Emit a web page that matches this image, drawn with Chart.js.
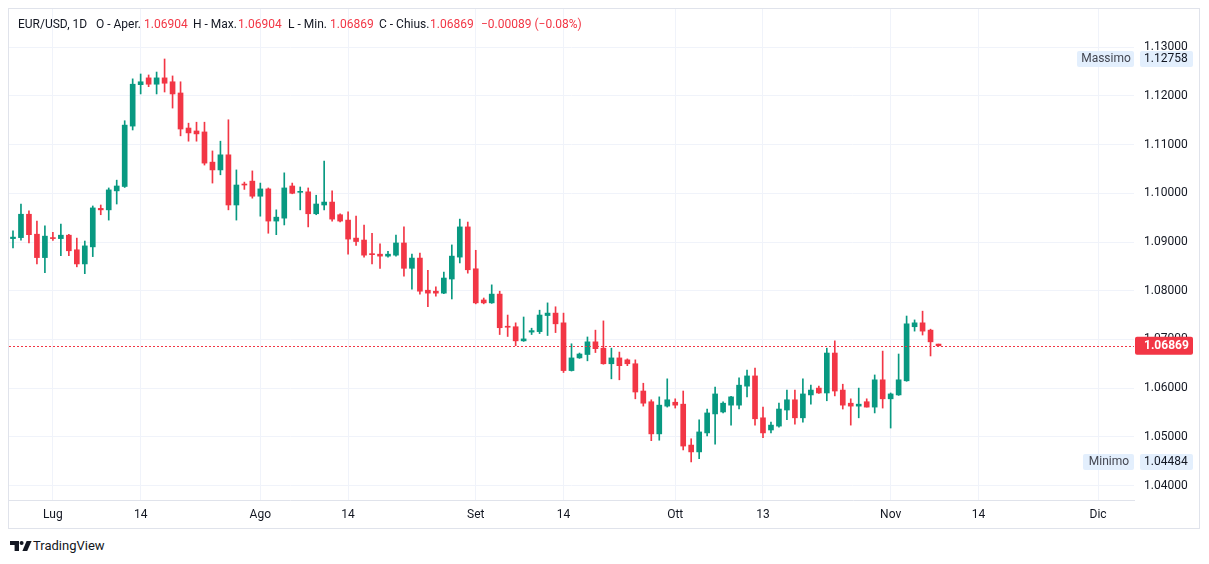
<!DOCTYPE html>
<html><head><meta charset="utf-8">
<script src="https://cdn.jsdelivr.net/npm/chart.js@4.4.1/dist/chart.umd.min.js"></script>
<style>
html,body{margin:0;padding:0;background:#fff;width:1209px;height:564px;overflow:hidden;font-family:Roboto,"Noto Sans",sans-serif;}
#box{position:absolute;left:8px;top:8px;width:1190px;height:519px;border:1px solid #e0e3eb;}
#c{position:absolute;left:0;top:0;}
.h{position:absolute;top:17px;font-size:12px;color:#131722;white-space:pre;line-height:14px;}
.r{color:#F23645;}
#logo{position:absolute;left:10px;top:541px;}
#tv{position:absolute;left:33px;top:538px;font-size:13px;color:#131722;line-height:16px;}
</style></head>
<body>
<div id="box"><canvas id="c" width="1190" height="519"></canvas></div>
<div class="h" style="left:18px">EUR/USD, 1D</div>
<div class="h" style="left:96px">O - Aper.</div><div class="h r" style="left:144px">1.06904</div>
<div class="h" style="left:193px">H - Max.</div><div class="h r" style="left:238px">1.06904</div>
<div class="h" style="left:288px">L - Min.</div><div class="h r" style="left:330px">1.06869</div>
<div class="h" style="left:379px">C - Chius.</div><div class="h r" style="left:430px">1.06869</div>
<div class="h r" style="left:481px">−0.00089 (−0.08%)</div>
<svg id="logo" width="22" height="10" viewBox="0 0 22 10">
<path d="M0 0H9V10H4.6V4H0Z" fill="#131722"/>
<circle cx="11.6" cy="2" r="2" fill="#131722"/>
<path d="M12.4 10L16.6 0H21.6L17.2 10Z" fill="#131722"/>
</svg>
<div id="tv">TradingView</div>
<script>
// Categories: daily bars (Sunday session included, Saturdays skipped)
const barDates = [];
for (let d = new Date(Date.UTC(2023, 5, 26)); barDates.length < 141; d.setUTCDate(d.getUTCDate() + 1)) {
  if (d.getUTCDay() !== 6) barDates.push(d.toISOString().slice(0, 10));
}
const tickDates = ["2023-07-02","2023-07-14","2023-08-01","2023-08-14","2023-09-01","2023-09-14","2023-10-01","2023-10-13","2023-11-01","2023-11-14","2023-12-01"];
const tickLabels = ["Lug","14","Ago","14","Set","14","Ott","13","Nov","14","Dic"];
const priceTicks = [1.04,1.05,1.06,1.07,1.08,1.09,1.10,1.11,1.12,1.13];

const open = [1.0907,1.0909,1.0957,1.0916,1.0868,1.0909,1.0907,1.0914,1.0884,1.0855,
1.0890,1.0969,1.0966,1.1005,1.1014,1.1138,1.1223,1.1237,1.1224,1.1237,
1.1229,1.1206,1.1134,1.1128,1.1126,1.1064,1.1048,1.1079,1.0976,1.1019,
1.1025,1.0994,1.1009,1.0943,1.0949,1.1015,1.1002,1.1003,1.0958,1.0976,
1.0982,1.0956,1.0945,1.0908,1.0904,1.0876,1.0875,1.0871,1.0873,1.0898,
1.0846,1.0867,1.0801,1.0799,1.0795,1.0824,1.0869,1.0931,1.0845,1.0781,
1.0775,1.0793,1.0726,1.0726,1.0697,1.0715,1.0716,1.0749,1.0754,1.0734,
1.0636,1.0662,1.0669,1.0695,1.0682,1.0650,1.0662,1.0658,1.0650,1.0594,
1.0572,1.0506,1.0563,1.0571,1.0567,1.0483,1.0469,1.0508,1.0547,1.0551,
1.0565,1.0565,1.0604,1.0625,1.0539,1.0514,1.0522,1.0555,1.0576,1.0539,
1.0586,1.0600,1.0590,1.0672,1.0596,1.0569,1.0563,1.0572,1.0561,1.0617,
1.0578,1.0586,1.0615,1.0726,1.0734,1.0719,1.06904];
const high = [1.0923,1.0978,1.0964,1.0943,1.0933,1.0920,1.0937,1.0916,1.0908,1.0902,
1.0974,1.0976,1.1011,1.1027,1.1149,1.1235,1.1245,1.1243,1.1249,1.12758,
1.1241,1.1229,1.1144,1.1146,1.1146,1.1087,1.1107,1.1151,1.1048,1.1023,
1.1046,1.1021,1.1011,1.0966,1.1042,1.1021,1.1013,1.1011,1.0996,1.1066,
1.1005,1.0958,1.0962,1.0953,1.0935,1.0918,1.0896,1.0881,1.0914,1.0931,
1.0875,1.0877,1.0842,1.0808,1.0838,1.0894,1.0947,1.0941,1.0883,1.0785,
1.0812,1.0799,1.0750,1.0734,1.0746,1.0723,1.0760,1.0775,1.0767,1.0754,
1.0691,1.0672,1.0705,1.0719,1.0738,1.0682,1.0674,1.0660,1.0658,1.0610,
1.0576,1.0582,1.0619,1.0578,1.0594,1.0496,1.0535,1.0557,1.0602,1.0572,
1.0583,1.0621,1.0637,1.0641,1.0561,1.0530,1.0569,1.0596,1.0596,1.0619,
1.0606,1.0604,1.0682,1.0697,1.0608,1.0578,1.0600,1.0578,1.0627,1.0676,
1.0590,1.0670,1.0748,1.0740,1.0758,1.0721,1.06904];
const low = [1.0888,1.0904,1.0898,1.0855,1.0837,1.0903,1.0872,1.0872,1.0849,1.0835,
1.0870,1.0956,1.0945,1.0978,1.1012,1.1130,1.1204,1.1219,1.1204,1.1208,
1.1175,1.1118,1.1107,1.1107,1.1058,1.1021,1.1038,1.0966,1.0945,1.1008,
1.0990,1.0953,1.0918,1.0915,1.0935,1.0999,1.0966,1.0931,1.0956,1.0966,
1.0943,1.0941,1.0875,1.0893,1.0869,1.0855,1.0846,1.0869,1.0871,1.0830,
1.0803,1.0793,1.0767,1.0789,1.0794,1.0783,1.0857,1.0836,1.0773,1.0773,
1.0774,1.0710,1.0706,1.0687,1.0696,1.0710,1.0712,1.0708,1.0714,1.0632,
1.0635,1.0661,1.0656,1.0673,1.0649,1.0619,1.0617,1.0646,1.0578,1.0563,
1.0492,1.0493,1.0561,1.0559,1.0473,1.04484,1.0455,1.0502,1.0485,1.0549,
1.0524,1.0557,1.0582,1.0524,1.0498,1.0508,1.0520,1.0535,1.0526,1.0530,
1.0567,1.0589,1.0574,1.0584,1.0557,1.0524,1.0539,1.0561,1.0549,1.0559,
1.0518,1.0585,1.0614,1.0717,1.0709,1.0666,1.06869];
const close = [1.0910,1.0957,1.0915,1.0868,1.0912,1.0907,1.0914,1.0882,1.0855,1.0892,
1.0970,1.0966,1.1007,1.1015,1.1140,1.1224,1.1229,1.1224,1.1237,1.1226,
1.1204,1.1132,1.1124,1.1122,1.1062,1.1048,1.1079,1.0976,1.1017,1.1017,
1.0994,1.1009,1.0943,1.0951,1.1011,1.1000,1.1003,1.0958,1.0978,1.0982,
1.0947,1.0943,1.0906,1.0901,1.0873,1.0874,1.0871,1.0875,1.0898,1.0846,
1.0867,1.0799,1.0795,1.0795,1.0826,1.0871,1.0931,1.0843,1.0775,1.0775,
1.0793,1.0724,1.0725,1.0697,1.0701,1.0718,1.0750,1.0754,1.0732,1.0636,
1.0662,1.0670,1.0695,1.0681,1.0650,1.0662,1.0646,1.0650,1.0592,1.0569,
1.0506,1.0565,1.0576,1.0565,1.0481,1.0469,1.0510,1.0549,1.0588,1.0569,
1.0582,1.0606,1.0625,1.0537,1.0508,1.0524,1.0557,1.0576,1.0539,1.0588,
1.0596,1.0590,1.0672,1.0594,1.0565,1.0563,1.0567,1.0561,1.0617,1.0578,
1.0588,1.0617,1.0732,1.0734,1.0717,1.0695,1.06869];

const UP = '#089981', DOWN = '#F23645';
const colors = open.map((o, i) => close[i] >= o ? UP : DOWN);
const bodies = open.map((o, i) => [Math.min(o, close[i]), Math.max(o, close[i])]);
const wicks = low.map((l, i) => [l, high[i]]);
const lastClose = close[close.length - 1];
const maxHigh = Math.max(...high), minLow = Math.min(...low);

function roundRect(ctx, x, y, w, h, r) {
  ctx.beginPath();
  ctx.moveTo(x + r, y); ctx.lineTo(x + w - r, y); ctx.quadraticCurveTo(x + w, y, x + w, y + r);
  ctx.lineTo(x + w, y + h - r); ctx.quadraticCurveTo(x + w, y + h, x + w - r, y + h);
  ctx.lineTo(x + r, y + h); ctx.quadraticCurveTo(x, y + h, x, y + h - r);
  ctx.lineTo(x, y + r); ctx.quadraticCurveTo(x, y, x + r, y); ctx.closePath();
}

const overlay = {
  id: 'overlay',
  afterDatasetsDraw(chart) {
    const { ctx, chartArea: a, scales: { y } } = chart;
    const py = Math.round(y.getPixelForValue(lastClose)) + 0.5;
    ctx.save();
    ctx.strokeStyle = DOWN; ctx.lineWidth = 1; ctx.setLineDash([2, 2]);
    ctx.beginPath(); ctx.moveTo(a.left, py); ctx.lineTo(a.right, py); ctx.stroke();
    ctx.restore();
  },
  afterDraw(chart) {
    const { ctx, chartArea: a, scales: { y } } = chart;
    ctx.save();
    ctx.font = '12px Roboto, "Noto Sans", sans-serif';
    ctx.textBaseline = 'middle';
    [[maxHigh, 'Massimo', 58], [minLow, 'Minimo', 52]].forEach(([v, txt, w]) => {
      const py = y.getPixelForValue(v);
      ctx.fillStyle = '#e3effd';
      roundRect(ctx, a.right + 6, py - 8, 53, 16, 2); ctx.fill();
      roundRect(ctx, a.right - w + 1, py - 8, w - 1, 16, 2); ctx.fill();
      ctx.fillStyle = '#131722';
      ctx.textAlign = 'left';
      ctx.fillText(v.toFixed(5), a.right + 10, py + 0.5);
      ctx.fillStyle = '#434651';
      ctx.textAlign = 'center';
      ctx.fillText(txt, a.right - w / 2 + 1, py + 0.5);
    });
    const py = y.getPixelForValue(lastClose);
    ctx.fillStyle = DOWN;
    roundRect(ctx, a.right + 1, py - 9, 58, 18, 2); ctx.fill();
    ctx.fillStyle = '#ffffff';
    ctx.font = 'bold 12px Roboto, "Noto Sans", sans-serif';
    ctx.textAlign = 'left';
    ctx.fillText(lastClose.toFixed(5), a.right + 10, py + 0.5);
    ctx.restore();
  }
};

function noPad(s) { s.paddingTop = 0; s.paddingBottom = 0; s.paddingLeft = 0; s.paddingRight = 0; }

new Chart(document.getElementById('c'), {
  type: 'bar',
  data: {
    labels: barDates,
    datasets: [
      { data: bodies, backgroundColor: colors, barThickness: 5, minBarLength: 1, grouped: false, order: 1 },
      { data: wicks, backgroundColor: colors, barThickness: 1, grouped: false, order: 2 }
    ]
  },
  options: {
    responsive: false, animation: false, events: [],
    layout: { padding: 0 },
    plugins: { legend: { display: false }, tooltip: { enabled: false } },
    scales: {
      x: {
        type: 'category', offset: true,
        grid: { color: '#f0f3fa', offset: false, drawTicks: false },
        border: { color: '#e0e3eb' },
        afterBuildTicks: s => { s.ticks = tickDates.map(d => ({ value: barDates.indexOf(d) })); },
        afterFit: s => { s.height = 28; noPad(s); },
        ticks: {
          autoSkip: false, maxRotation: 0, padding: 8,
          color: '#131722', font: { size: 12, family: 'Roboto, "Noto Sans", sans-serif' },
          callback: (v, i) => tickLabels[i]
        }
      },
      y: {
        position: 'right', min: 1.037023, max: 1.137844,
        grid: { color: '#f0f3fa', drawTicks: false },
        border: { display: false },
        afterBuildTicks: s => { s.ticks = priceTicks.map(v => ({ value: v })); },
        afterFit: s => { s.width = 65; noPad(s); },
        ticks: {
          padding: 10, color: '#131722', font: { size: 12, family: 'Roboto, "Noto Sans", sans-serif' },
          callback: v => v.toFixed(5)
        }
      }
    }
  },
  plugins: [overlay]
});
</script>
</body></html>
